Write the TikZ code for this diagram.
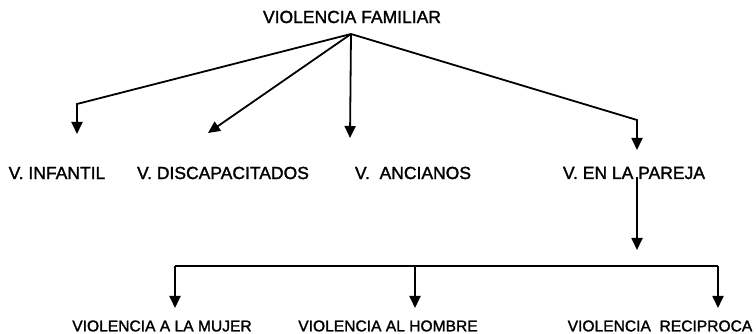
\documentclass[tikz,border=0pt]{standalone}
\usepackage{fontspec}
\setmainfont{Liberation Sans}[FakeBold=1.6]
\usetikzlibrary{arrows.meta,positioning}

\tikzstyle{block} = [rectangle, text centered, inner sep=2pt, font=\fontsize{17.5}{20}\selectfont]
\tikzstyle{subblock} = [block, font=\fontsize{15.6}{18}\selectfont]
\tikzstyle{arrow} = [draw, line width=1.8pt, -{Triangle[width=11pt,length=12pt]}]
\tikzstyle{line} = [draw, line width=1.8pt]

\begin{document}
\begin{tikzpicture}[x=1pt, y=1pt, node distance=156pt]
    \useasboundingbox (0,0) rectangle (756,334);

    \node[block] (fam) at (352,317) {VIOLENCIA FAMILIAR};

    \node[block, below of=fam, xshift=-295pt] (infantil) {V. INFANTIL};
    \node[block, below of=fam, xshift=-129pt] (discap) {V. DISCAPACITADOS};
    \node[block, below of=fam, xshift=61pt] (ancianos) {V.~~ANCIANOS};
    \node[block, below of=fam, xshift=282pt] (pareja) {V. EN LA PAREJA};

    \node[subblock, below of=fam, node distance=309pt, xshift=-190pt] (mujer) {VIOLENCIA A LA MUJER};
    \node[subblock, below of=fam, node distance=309pt, xshift=36pt] (hombre) {VIOLENCIA AL HOMBRE};
    \node[subblock, below of=fam, node distance=309pt, xshift=308pt] (reciproca) {VIOLENCIA~~RECIPROCA};

    % points
    \coordinate (apex) at (351,300);
    \coordinate (kinf) at (77,230);
    \coordinate (tinf) at (77,200);
    \coordinate (tdis) at (208,201);
    \coordinate (tanc) at (350,196);
    \coordinate (kpar) at (637,214);
    \coordinate (tpar) at (637,184);
    \coordinate (spar) at (637,157);
    \coordinate (bpar) at (637,84);
    \coordinate (barL) at (175,68);
    \coordinate (barM) at (415,68);
    \coordinate (barR) at (718,68);

    % lines
    \draw [arrow] (apex) -- (kinf) -- (tinf);
    \draw [arrow] (apex) -- (tdis);
    \draw [arrow] (apex) -- (tanc);
    \draw [arrow] (apex) -- (kpar) -- (tpar);
    \draw [arrow] (spar) -- (bpar);
    \draw [line] (barL) -- (barR);
    \draw [arrow] (barL) -- (barL |- 0,26);
    \draw [arrow] (barM) -- (barM |- 0,26);
    \draw [arrow] (barR) -- (barR |- 0,26);
\end{tikzpicture}
\end{document}
